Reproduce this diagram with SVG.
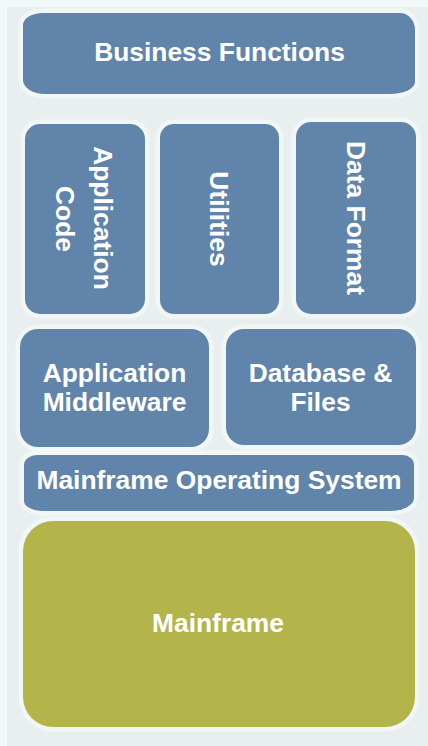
<svg xmlns="http://www.w3.org/2000/svg" width="428" height="746" viewBox="0 0 428 746">
<style>
.blue{fill:#6084aa;stroke:#f1f7f7;stroke-width:9;paint-order:stroke}
.green{fill:#b3b54a;stroke:#f1f7f7;stroke-width:9;paint-order:stroke}
text{font-family:"Liberation Sans",Arial,sans-serif;font-weight:bold;font-size:26.4px;fill:#ffffff;text-anchor:middle}
</style>
<rect x="0" y="0" width="428" height="746" fill="#f3f8f8"/>
<rect x="7" y="7" width="421" height="739" fill="#e9efef"/>
<g id="business-functions">
<path class="blue" d="M43,13 H400 A15,17 0 0 1 415,30 V82 A25,12 0 0 1 390,94 H45 A22,14 0 0 1 23,80 V25 A20,12 0 0 1 43,13 Z"/>
<text x="219.5" y="61">Business Functions</text>
</g>
<g id="application-code">
<rect class="blue" x="25" y="124" width="120" height="190" rx="15"/>
<text transform="translate(93.5,218) rotate(90)">Application</text>
<text transform="translate(55.5,219) rotate(90)">Code</text>
</g>
<g id="utilities">
<rect class="blue" x="160" y="124" width="119" height="190" rx="14"/>
<text transform="translate(209.5,219) rotate(90)">Utilities</text>
</g>
<g id="data-format">
<rect class="blue" x="296" y="122" width="120" height="192" rx="15"/>
<text transform="translate(346.5,218) rotate(90)">Data Format</text>
</g>
<g id="application-middleware">
<rect class="blue" x="20" y="329" width="189" height="118" rx="18"/>
<text x="114.5" y="382">Application</text>
<text x="114.5" y="411">Middleware</text>
</g>
<g id="database-files">
<rect class="blue" x="226" y="329" width="190" height="116" rx="18"/>
<text x="320.5" y="382">Database &amp;</text>
<text x="320.5" y="411">Files</text>
</g>
<g id="mainframe-os">
<path class="blue" d="M37,455 H403 A11,10 0 0 1 414,465 V498 A24,13 0 0 1 390,511 H43 A19,10 0 0 1 24,501 V465 A13,10 0 0 1 37,455 Z"/>
<text x="219" y="489">Mainframe Operating System</text>
</g>
<g id="mainframe">
<rect class="green" x="23" y="521" width="392" height="206" rx="30"/>
<text x="218" y="632">Mainframe</text>
</g>
<g id="connectors"></g>
</svg>
